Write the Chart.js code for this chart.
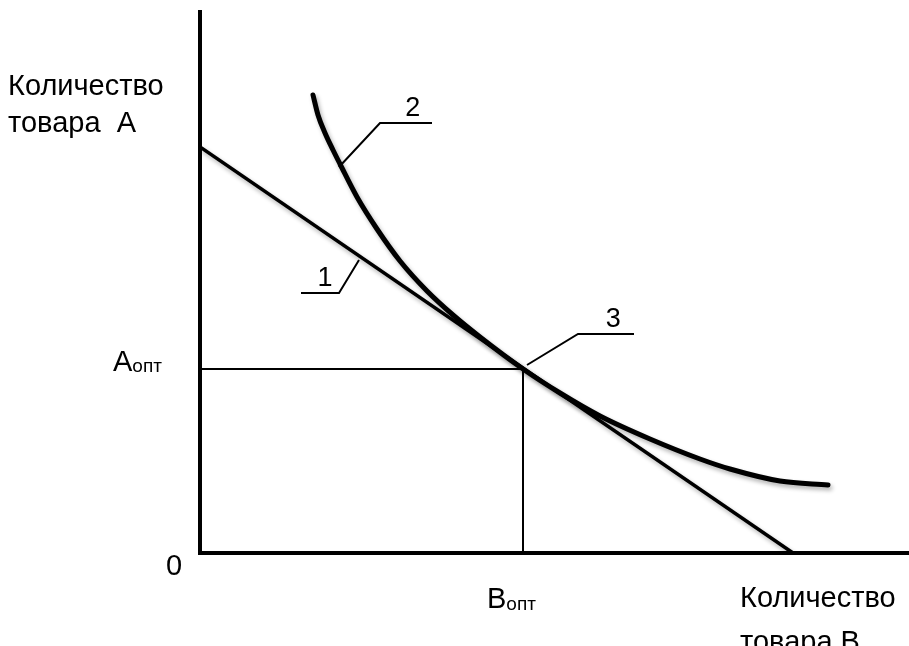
<!DOCTYPE html>
<html>
<head>
<meta charset="utf-8">
<script src="https://cdn.jsdelivr.net/npm/chart.js@4"></script>
<style>
  body { margin: 0; background: #fff; }
  #wrap { width: 909px; height: 646px; position: relative; }
</style>
</head>
<body>
<div id="wrap"><canvas id="chart"></canvas></div>
<script>
// indifference curve (2)
const curveX = [11.3, 11.8, 12.5, 13.3, 14.0, 15.7, 17.7, 20.0, 22.7, 25.3, 28.0, 32.3, 36.0, 40.0, 45.0, 50.0, 53.0, 58.0, 62.8];
const curveY = [45.8, 43.8, 42.0, 40.3, 38.9, 35.6, 32.4, 29.2, 26.2, 23.8, 21.6, 18.4, 16.0, 13.7, 11.4, 9.4, 8.4, 7.2, 6.8];

// budget line (1)
const budgetX = [0, 59.3];
const budgetY = [40.6, 0];

// optimum point (3)
const optX = 32.3;
const optY = 18.4;

// leader lines for the numbers
const leader1X = [15.9, 13.9, 10.1];
const leader1Y = [29.3, 26.0, 26.0];
const leader2X = [13.9, 18.0, 23.2];
const leader2Y = [38.6, 43.0, 43.0];
const leader3X = [32.7, 37.8, 43.4];
const leader3Y = [18.8, 21.9, 21.9];

const labelNums = ["1", "2", "3"];

function toPoints(xs, ys) {
  let pts = [];
  for (let i = 0; i < xs.length; i++) {
    pts.push({ x: xs[i], y: ys[i] });
  }
  return pts;
}

function lineSet(pts, width, extra) {
  return Object.assign({
    data: pts,
    borderColor: "#000",
    borderWidth: width,
    pointRadius: 0,
    fill: false,
    tension: 0,
  }, extra || {});
}

const datasets = [
  lineSet(toPoints(curveX, curveY), 5, { cubicInterpolationMode: "monotone", borderCapStyle: "round", shadow: true }),
  lineSet(toPoints(budgetX, budgetY), 3.5, { shadow: true }),
  lineSet([{ x: 0, y: optY }, { x: optX, y: optY }], 2),
  lineSet([{ x: optX, y: 0 }, { x: optX, y: optY }], 2),
  lineSet(toPoints(leader1X, leader1Y), 2),
  lineSet(toPoints(leader2X, leader2Y), 2),
  lineSet(toPoints(leader3X, leader3Y), 2),
];

// soft shadow under the thick lines
const shadowPlugin = {
  id: "shadow",
  beforeDatasetDraw(chart, args) {
    const ctx = chart.ctx;
    ctx.save();
    if (args.meta._dataset.shadow) {
      ctx.shadowColor = "rgba(0,0,0,0.3)";
      ctx.shadowBlur = 4;
      ctx.shadowOffsetX = 2;
      ctx.shadowOffsetY = 3;
    }
  },
  afterDatasetDraw(chart) {
    chart.ctx.restore();
  },
};

const textPlugin = {
  id: "texts",
  afterDraw(chart) {
    const ctx = chart.ctx;
    const xs = chart.scales.x;
    const ys = chart.scales.y;
    const big = "29px 'Liberation Sans', Arial, sans-serif";
    const small = "19px 'Liberation Sans', Arial, sans-serif";
    ctx.save();
    ctx.fillStyle = "#000";
    ctx.textBaseline = "alphabetic";
    ctx.textAlign = "left";
    ctx.font = big;

    // axis titles
    ctx.fillText("Количество", 8, 95);
    ctx.fillText("товара  А", 8, 132);
    ctx.fillText("Количество", 740, 607);
    ctx.fillText("товара В", 740, 651);
    ctx.fillText("0", 166, 575);

    // A opt / B opt
    let ay = ys.getPixelForValue(optY) + 2;
    ctx.fillText("А", 113, ay);
    let aw = ctx.measureText("А").width;
    let bx = xs.getPixelForValue(optX) - 36;
    ctx.fillText("В", bx, 608);
    let bw = ctx.measureText("В").width;
    ctx.font = small;
    ctx.fillText("опт", 113 + aw, ay + 1);
    ctx.fillText("опт", bx + bw, 610);

    // numbers over the leader lines
    ctx.font = "27px 'Liberation Sans', Arial, sans-serif";
    ctx.textAlign = "center";
    const ends = [
      [leader1X[2], leader1X[1], leader1Y[1]],
      [leader2X[1], leader2X[2], leader2Y[1]],
      [leader3X[1], leader3X[2], leader3Y[1]],
    ];
    for (let i = 0; i < ends.length; i++) {
      let e = ends[i];
      let x0 = xs.getPixelForValue(e[0]);
      let x1 = xs.getPixelForValue(e[1]);
      let cx = x0 + (x1 - x0) * 0.63;
      let cy = ys.getPixelForValue(e[2]);
      ctx.fillText(labelNums[i], cx, cy - 7);
    }
    ctx.restore();
  },
};

new Chart(document.getElementById("chart"), {
  type: "line",
  data: { datasets: datasets },
  options: {
    responsive: true,
    maintainAspectRatio: false,
    animation: false,
    layout: { padding: { left: 200, top: 12, right: 0, bottom: 93 } },
    plugins: { legend: { display: false }, tooltip: { enabled: false } },
    scales: {
      x: {
        type: "linear",
        min: 0,
        max: 70.9,
        ticks: { display: false },
        grid: { display: false, drawTicks: false },
        border: { display: true, color: "#000", width: 4 },
      },
      y: {
        type: "linear",
        min: 0,
        max: 54.1,
        ticks: { display: false },
        grid: { display: false, drawTicks: false },
        border: { display: true, color: "#000", width: 4 },
      },
    },
  },
  plugins: [shadowPlugin, textPlugin],
});
</script>
</body>
</html>
